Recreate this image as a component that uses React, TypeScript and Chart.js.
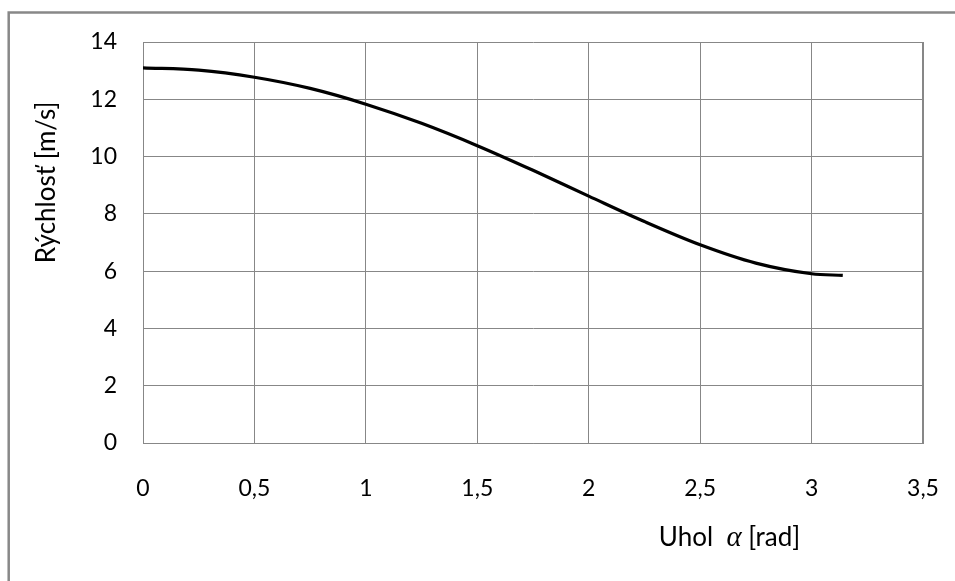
import React, { useEffect, useRef } from "react";
import { Chart, registerables } from "chart.js";

Chart.register(...registerables);

// Data
const ANGLE = [0, 0.25, 0.5, 0.75, 1.0, 1.25, 1.5, 1.75, 2.0, 2.25, 2.5, 2.75, 3.0, 3.14];
const SPEED = [13.1, 13.02, 12.77, 12.38, 11.83, 11.16, 10.38, 9.52, 8.62, 7.73, 6.92, 6.28, 5.91, 5.85];
const X_TICKS = ["0", "0,5", "1", "1,5", "2", "2,5", "3", "3,5"];
const Y_TICKS = ["0", "2", "4", "6", "8", "10", "12", "14"];
const X_TITLE_PARTS = ["Uhol  ", "α", " [rad]"];
const Y_TITLE = "Rýchlosť [m/s]";

const FONT = "Lato, 'Open Sans', sans-serif";
const GRID = "#878787";
const CLEAR = "rgba(0,0,0,0)";

export default function App() {
  const ref = useRef<HTMLCanvasElement | null>(null);

  useEffect(() => {
    document.body.style.margin = "0";
    const canvas = ref.current!;
    const titles = {
      id: "titles",
      beforeDraw(chart: any) {
        const c = chart.ctx;
        c.save();
        c.fillStyle = "#fff";
        c.fillRect(0, 0, chart.width, chart.height);
        c.strokeStyle = "#888";
        c.lineWidth = 2.5;
        c.beginPath();
        c.moveTo(8.7, chart.height);
        c.lineTo(8.7, 12.5);
        c.lineTo(chart.width, 12.5);
        c.stroke();
        c.restore();
      },
      afterDraw(chart: any) {
        const c = chart.ctx;
        const a = chart.chartArea;
        c.save();
        c.fillStyle = "#000";
        c.textBaseline = "alphabetic";
        // x title, drawn in parts so alpha can use a serif italic face
        const fonts = [`26px ${FONT}`, `italic 29px 'Liberation Serif', serif`, `26px ${FONT}`];
        const widths = X_TITLE_PARTS.map((t, i) => {
          c.font = fonts[i];
          return c.measureText(t).width;
        });
        const total = widths.reduce((p, q) => p + q, 0);
        const cx = a.left + (a.right - a.left) * 0.752;
        let x = cx - total / 2;
        c.textAlign = "left";
        X_TITLE_PARTS.forEach((t, i) => {
          c.font = fonts[i];
          c.fillText(t, x, 546);
          x += widths[i];
        });
        c.font = `26px ${FONT}`;
        c.textAlign = "center";
        c.textBaseline = "middle";
        c.translate(47, a.top + (a.bottom - a.top) * 0.35);
        c.rotate(-Math.PI / 2);
        c.fillText(Y_TITLE, 0, 0);
        c.restore();
      },
    };

    const chart = new Chart(canvas, {
      type: "line",
      data: {
        datasets: [
          {
            data: ANGLE.map((x, i) => ({ x, y: SPEED[i] })),
            borderColor: "#000",
            borderWidth: 3.2,
            pointRadius: 0,
            fill: false,
            cubicInterpolationMode: "monotone",
          },
        ],
      },
      options: {
        animation: false,
        responsive: false,
        events: [],
        layout: { padding: { top: 42, right: 32, left: 0, bottom: 0 } },
        plugins: { legend: { display: false }, tooltip: { enabled: false } },
        scales: {
          x: {
            type: "linear",
            min: 0,
            max: 3.5,
            afterFit: (s: any) => {
              s.height = 138;
            },
            ticks: {
              stepSize: 0.5,
              color: "#000",
              font: { family: FONT, size: 23 },
              padding: 0,
              maxRotation: 0,
              callback: (v: any) => X_TICKS[Math.round(Number(v) * 2)] ?? "",
            },
            grid: {
              color: GRID,
              lineWidth: (ctx: any) => (ctx.index === 7 ? 2 : 1),
              drawTicks: true,
              tickLength: 32,
              tickColor: CLEAR,
            },
            border: { display: true, color: GRID, width: 1 },
          },
          y: {
            min: 0,
            max: 14,
            afterFit: (s: any) => {
              s.width = 143;
            },
            ticks: {
              stepSize: 2,
              color: "#000",
              font: { family: FONT, size: 23 },
              padding: 0,
              callback: (v: any) => Y_TICKS[Math.round(Number(v) / 2)] ?? "",
            },
            grid: {
              color: GRID,
              lineWidth: 1,
              drawTicks: true,
              tickLength: 26,
              tickColor: CLEAR,
            },
            border: { display: true, color: GRID, width: 1 },
          },
        },
      },
      plugins: [titles],
    } as any);
    return () => chart.destroy();
  }, []);

  return (
    <div style={{ width: 955, height: 581 }}>
      <canvas ref={ref} width={955} height={581} style={{ display: "block" }} />
    </div>
  );
}
